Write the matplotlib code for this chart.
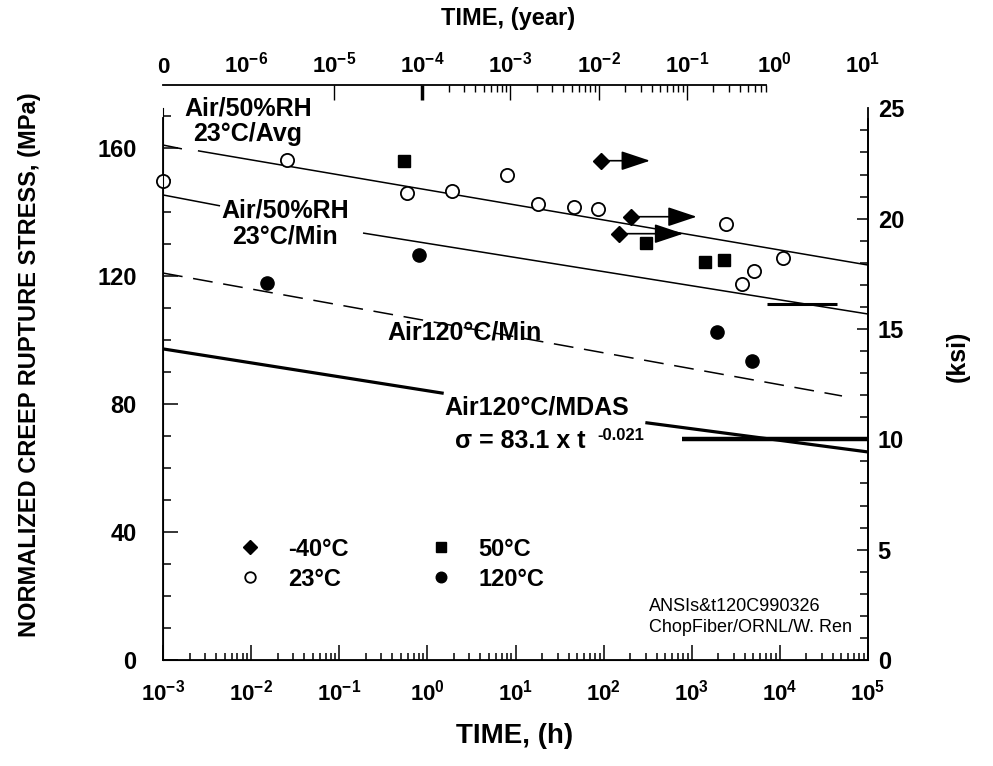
import matplotlib
matplotlib.use("Agg")
import matplotlib.pyplot as plt
from matplotlib.ticker import FixedLocator, MultipleLocator, LogLocator, FuncFormatter, NullFormatter
import numpy as np

plt.rcParams['font.family'] = ['Liberation Sans', 'DejaVu Sans']
plt.rcParams['font.weight'] = 'bold'
plt.rcParams['mathtext.fontset'] = 'custom'
plt.rcParams['mathtext.rm'] = 'Liberation Sans:bold'
plt.rcParams['mathtext.bf'] = 'Liberation Sans:bold'
plt.rcParams['mathtext.default'] = 'rm'

MPA_PER_KSI = 6.895
HOURS_PER_YEAR = 8760.0

# --- data: time in hours, stress in MPa ---
# -40C, runouts (arrow tips = time reached so far)
t_m40 = [92.7, 206.5, 148.6]
s_m40 = [156.0, 138.5, 133.2]
t_m40_tip = [336, 1138, 802]

# 23C
t_23 = [1e-3, 0.0254, 0.592, 1.89, 8.07, 17.9, 46.6, 87.1, 2430, 10760, 5050, 3720]
s_23 = [149.7, 156.3, 145.8, 146.6, 151.6, 142.5, 141.5, 140.8, 136.3, 125.5, 121.6, 117.5]

# 50C
t_50 = [0.543, 303, 1426, 2301]
s_50 = [155.9, 130.2, 124.5, 125.0]

# 120C
t_120 = [0.0153, 0.811, 1950, 4864]
s_120 = [117.9, 126.6, 102.6, 93.4]

# design curves (drawn in pieces, gaps where the labels sit)
avg_t1, avg_s1 = [1e-3, 0.00164], [160.9, 159.7]
avg_t2, avg_s2 = [0.00249, 1e5], [159.1, 123.4]
min_t1, min_s1 = [1e-3, 0.00444], [145.3, 141.9]
min_t2, min_s2 = [0.186, 1e5], [133.4, 108.1]
min120_t, min120_s = [1e-3, 50700], [120.9, 82.5]
mdas_t1, mdas_s1 = [1e-3, 1.47], [97.2, 83.4]
mdas_t2, mdas_s2 = [310, 1e5], [74.1, 65.0]
bar1_t, bar1_s = [7140, 44500], [111.3, 111.3]
bar2_t, bar2_s = [774, 1e5], [69.1, 69.1]

# top axis labels (years)
yr_ticks = [1e-3 / HOURS_PER_YEAR, 1e-6, 1e-5, 1e-4, 1e-3, 1e-2, 1e-1, 1e0, 1e1]
yr_labels = ['0', '$10^{-6}$', '$10^{-5}$', '$10^{-4}$', '$10^{-3}$',
             '$10^{-2}$', '$10^{-1}$', '$10^{0}$', '$10^{1}$']

W, H = 993, 766
fig = plt.figure(figsize=(W / 100, H / 100), dpi=100)

x0, x1, y0, y1 = 163, 868, 660, 108.3
ax = fig.add_axes([x0 / W, 1 - y0 / H, (x1 - x0) / W, (y0 - y1) / H])
ax.set_xscale('log')
ax.set_xlim(1e-3, 1e5)
ax.set_ylim(0, 25 * MPA_PER_KSI)

thin = dict(color='k', lw=1.1, solid_capstyle='butt')
ax.plot(avg_t1, avg_s1, **thin)
ax.plot(avg_t2, avg_s2, **thin)
ax.plot(min_t1, min_s1, **thin)
ax.plot(min_t2, min_s2, **thin)
ax.plot(min120_t, min120_s, color='k', lw=1.1, ls=(0, (13, 7)))
ax.plot(mdas_t1, mdas_s1, color='k', lw=2.3)
ax.plot(mdas_t2, mdas_s2, color='k', lw=2.3)
ax.plot(bar1_t, bar1_s, color='k', lw=2.2, solid_capstyle='butt')
ax.plot(bar2_t, bar2_s, color='k', lw=3.2, solid_capstyle='butt')

ax.plot(t_23, s_23, 'o', ms=9.5, mfc='white', mec='k', mew=1.3, ls='none',
        label='23°C', clip_on=False, zorder=5)
ax.plot(t_50, s_50, 's', ms=9, color='k', ls='none', label='50°C', zorder=5)
ax.plot(t_120, s_120, 'o', ms=9.5, color='k', ls='none', label='120°C', zorder=5)
ax.plot(t_m40, s_m40, 'D', ms=8.5, color='k', ls='none', label='-40°C', zorder=5)
for t, s, tip in zip(t_m40, s_m40, t_m40_tip):
    ax.annotate('', xy=(tip, s), xytext=(t, s),
                arrowprops=dict(arrowstyle='-|>,head_length=0.9,head_width=0.3',
                                color='k', lw=1.2, shrinkA=0, shrinkB=0,
                                mutation_scale=20))

# legend, column-wise order
h, l = ax.get_legend_handles_labels()
order = [3, 0, 1, 2]
ax.legend([h[i] for i in order], [l[i] for i in order], ncol=2, frameon=False,
          loc='upper left', bbox_to_anchor=(0.107, 0.222), borderaxespad=0,
          borderpad=0, handlelength=1.0, handletextpad=1.1, columnspacing=3.4,
          labelspacing=0.3, markerscale=0.8, prop=dict(size=17, weight='bold'))

# curve labels
ax.text(0.00923, 168.3, 'Air/50%RH\n23°C/Avg', ha='center', va='center',
        fontsize=18, linespacing=1.1)
ax.text(0.0242, 136.4, 'Air/50%RH\n23°C/Min', ha='center', va='center',
        fontsize=18, linespacing=1.1)
ax.text(2.67, 102.2, 'Air120°C/Min', ha='center', va='center', fontsize=18)
ax.text(17.3, 78.75, 'Air120°C/MDAS', ha='center', va='center', fontsize=18)
ax.text(2.06, 68.3, 'σ = 83.1 x t', ha='left', va='center', fontsize=18)
ax.text(84, 70.0, '-0.021', ha='left', va='center', fontsize=12)
ax.text(0.689, 0.112, 'ANSIs&t120C990326\nChopFiber/ORNL/W. Ren', transform=ax.transAxes,
        ha='left', va='top', fontsize=13, fontweight='normal', linespacing=1.3)

# bottom / left axis
ax.spines['top'].set_visible(False)
ax.spines['left'].set_bounds(0, 169.4)
ax.xaxis.set_major_locator(LogLocator(base=10, numticks=20))
ax.xaxis.set_minor_locator(LogLocator(base=10, subs=np.arange(2, 10), numticks=20))
ax.xaxis.set_minor_formatter(NullFormatter())
ax.xaxis.set_major_formatter(FuncFormatter(lambda v, p: '$10^{%d}$' % round(np.log10(v))))
ax.yaxis.set_major_locator(MultipleLocator(40))
ax.yaxis.set_minor_locator(MultipleLocator(10))
ax.tick_params(axis='both', which='both', direction='in', width=1.1)
ax.tick_params(axis='x', which='major', length=11, pad=14, labelsize=16)
ax.tick_params(axis='x', which='minor', length=5)
ax.tick_params(axis='y', which='major', length=11, pad=19, labelsize=17)
ax.tick_params(axis='y', which='minor', length=6)

# right axis in ksi
ax2 = ax.twinx()
ax2.set_ylim(0, 25)
ax2.spines['top'].set_visible(False)
ax2.spines['right'].set_bounds(0, 24.5)
ax2.yaxis.set_major_locator(FixedLocator([0, 5, 10, 15, 20, 25]))
ax2.yaxis.set_minor_locator(MultipleLocator(1))
ax2.tick_params(axis='y', which='both', direction='in', width=1.1, labelsize=17, pad=7)
ax2.tick_params(axis='y', which='major', length=8)
ax2.tick_params(axis='y', which='minor', length=6)
for s in ['left', 'right', 'bottom']:
    ax.spines[s].set_linewidth(1.3)
ax2.spines['right'].set_linewidth(1.3)
ax2.yaxis.get_major_ticks(6)[-1].tick2line.set_visible(False)

# top axis in years
ytop = 85
axt = fig.add_axes([x0 / W, 1 - ytop / H, (x1 - x0) / W, 1e-4])
axt.set_xscale('log')
axt.set_xlim(1e-3 / HOURS_PER_YEAR, 1e5 / HOURS_PER_YEAR)
axt.patch.set_visible(False)
for s in ['left', 'right', 'bottom']:
    axt.spines[s].set_visible(False)
axt.spines['top'].set_bounds(1e-3 / HOURS_PER_YEAR, 0.8)
axt.spines['top'].set_linewidth(1.3)
axt.set_yticks([])
axt.set_xticks(yr_ticks)
axt.set_xticklabels(yr_labels)
axt.xaxis.remove_overlapping_locs = False
minor_yr = [1e-5, 1e-4] + [m * 10.0 ** e for e in range(-4, 0) for m in range(1, 10)
                          if m * 10.0 ** e <= 0.8 and not (m == 1 and e == -4)]
axt.xaxis.set_minor_locator(FixedLocator(minor_yr))
axt.xaxis.set_minor_formatter(NullFormatter())
axt.tick_params(axis='x', which='both', top=True, bottom=False, labeltop=True,
                labelbottom=False, direction='in')
axt.tick_params(axis='x', which='major', length=0, pad=5, labelsize=16)
axt.tick_params(axis='x', which='minor', length=5, width=1.0)
for tk, v in zip(axt.xaxis.get_minor_ticks(len(minor_yr)), minor_yr):
    e = np.log10(v)
    if abs(e - round(e)) < 1e-6:
        tk.tick2line.set_markersize(11)
        if round(e) == -4:
            tk.tick2line.set_markeredgewidth(2.5)

# axis titles
fig.text(30 / W, 1 - 365 / H, 'NORMALIZED CREEP RUPTURE STRESS, (MPa)', rotation=90,
         ha='center', va='center', fontsize=17)
fig.text(958 / W, 1 - 356 / H, '(ksi)', rotation=90, ha='center', va='center', fontsize=18)
fig.text(515 / W, 1 - 736 / H, 'TIME, (h)', ha='center', va='center', fontsize=20)
fig.text(508 / W, 1 - 18 / H, 'TIME, (year)', ha='center', va='center', fontsize=17)

fig.savefig('out.png', dpi=100)
